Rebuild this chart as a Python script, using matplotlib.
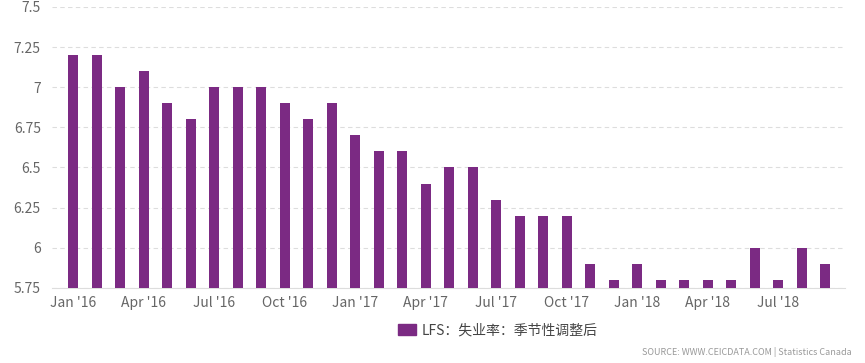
import matplotlib.pyplot as plt
from matplotlib.patches import Patch

plt.rcParams['font.family'] = ['Noto Sans CJK SC', 'DejaVu Sans']

months = ["Jan '16", "Feb '16", "Mar '16", "Apr '16", "May '16", "Jun '16",
          "Jul '16", "Aug '16", "Sep '16", "Oct '16", "Nov '16", "Dec '16",
          "Jan '17", "Feb '17", "Mar '17", "Apr '17", "May '17", "Jun '17",
          "Jul '17", "Aug '17", "Sep '17", "Oct '17", "Nov '17", "Dec '17",
          "Jan '18", "Feb '18", "Mar '18", "Apr '18", "May '18", "Jun '18",
          "Jul '18", "Aug '18", "Sep '18"]
rate = [7.2, 7.2, 7.0, 7.1, 6.9, 6.8, 7.0, 7.0, 7.0, 6.9, 6.8, 6.9,
        6.7, 6.6, 6.6, 6.4, 6.5, 6.5, 6.3, 6.2, 6.2, 6.2, 5.9, 5.8,
        5.9, 5.8, 5.8, 5.8, 5.8, 6.0, 5.8, 6.0, 5.9]
yticks = [5.75, 6, 6.25, 6.5, 6.75, 7, 7.25, 7.5]
ytick_labels = ["5.75", "6", "6.25", "6.5", "6.75", "7", "7.25", "7.5"]
legend_label = "LFS：失业率：季节性调整后"
source = "SOURCE: WWW.CEICDATA.COM | Statistics Canada"

purple = "#7b2a83"

fig = plt.figure(figsize=(8.65, 3.63), dpi=100)
ax = fig.add_axes([0.06, 0.207, 0.917, 0.774])

x = list(range(len(rate)))
ax.bar(x, rate, width=0.43, color=purple, zorder=3)

ax.set_ylim(5.75, 7.5)
ax.set_xlim(-0.9, 32.85)
ax.set_yticks(yticks)
ax.set_yticklabels(ytick_labels)
ax.set_xticks(x[::3])
ax.set_xticklabels(months[::3])

ax.grid(axis="y", color="#dddddd", linestyle=(0, (4, 3)), linewidth=0.8, zorder=0)
for s in ["top", "right", "left"]:
    ax.spines[s].set_visible(False)
ax.spines["bottom"].set_color("#dddddd")
ax.tick_params(axis="both", length=0, labelsize=10, colors="#666666")
ax.tick_params(axis="y", pad=8)
ax.tick_params(axis="x", pad=6)

handle = Patch(color=purple, label=legend_label)
fig.legend(handles=[handle], loc="center", bbox_to_anchor=(0.575, 0.09),
           frameon=False, fontsize=10, labelcolor="#444444",
           handlelength=1.3, handleheight=0.9, handletextpad=0.4)

fig.text(0.985, 0.03, source, ha="right", va="center", fontsize=6.5, color="#999999")

plt.savefig("out.png", dpi=100)
